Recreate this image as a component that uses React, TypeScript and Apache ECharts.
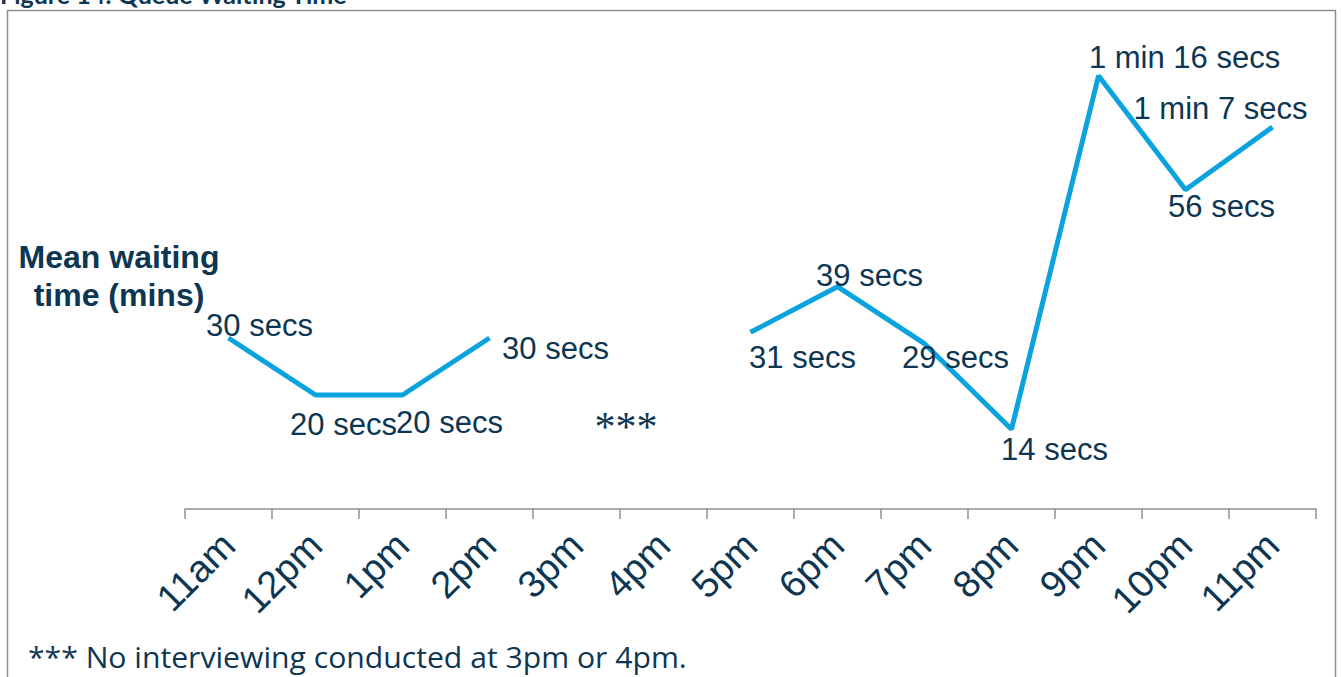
import React, { useEffect, useRef } from "react";
import * as echarts from "echarts";

// Hourly mean queue waiting time, in seconds (no interviewing at 3pm / 4pm)
const hours = ["11am", "12pm", "1pm", "2pm", "3pm", "4pm", "5pm", "6pm", "7pm", "8pm", "9pm", "10pm", "11pm"];
const waitSecs: (number | null)[] = [30, 20, 20, 30, null, null, 31, 39, 29, 14, 76, 56, 67];

// Label placement relative to each point (label centre minus point, px)
const labelOffsets: [number, number][] = [
  [31, -13], [28, 29], [47, 27], [66, 10], [0, 0], [0, 0],
  [52, 25], [32, -11], [31, 14], [43, 20], [86, -18], [36, 17], [-52, -19],
];

const NAVY = "#0d3653";
const BLUE = "#0aa3de";

function formatWait(s: number): string {
  const m = Math.floor(s / 60);
  const r = s % 60;
  return m > 0 ? `${m} min ${r} secs` : `${r} secs`;
}

export default function App() {
  const ref = useRef<HTMLDivElement>(null);

  useEffect(() => {
    if (!ref.current) return;
    const chart = echarts.init(ref.current, null, { renderer: "svg" });

    const seriesData = waitSecs.map((v, i) =>
      v == null
        ? null
        : {
            value: v,
            label: {
              show: true,
              position: "inside",
              offset: labelOffsets[i],
              formatter: () => formatWait(v),
            },
          }
    );

    chart.setOption({
      animation: false,
      backgroundColor: "#ffffff",
      grid: { left: 185, right: 25, top: 53, bottom: 168, containLabel: false },
      xAxis: {
        type: "category",
        data: hours,
        boundaryGap: true,
        axisLine: { show: true, lineStyle: { color: "#8c9096", width: 1.5 } },
        axisTick: { show: true, alignWithLabel: false, length: 10, lineStyle: { color: "#8c9096", width: 1.5 } },
        axisLabel: {
          rotate: 45,
          margin: 30,
          interval: 0,
          color: NAVY,
          fontSize: 38,
          fontFamily: "Liberation Sans, Arial, sans-serif",
        },
        splitLine: { show: false },
      },
      yAxis: {
        type: "value",
        min: 0,
        max: 80,
        show: false,
      },
      series: [
        {
          type: "line",
          data: seriesData,
          connectNulls: false,
          symbol: "circle",
          symbolSize: 1,
          showSymbol: true,
          itemStyle: { color: "rgba(0,0,0,0)" },
          lineStyle: { color: BLUE, width: 5 },
          label: {
            show: true,
            color: NAVY,
            fontSize: 31,
            fontFamily: "Liberation Sans, Arial, sans-serif",
          },
          z: 2,
        },
      ],
      graphic: [
        {
          type: "rect",
          shape: { x: 7.5, y: 10.5, width: 1328, height: 700 },
          style: { fill: "none", stroke: "#8c9096", lineWidth: 1.5 },
          silent: true,
        },
        {
          type: "text",
          x: 0,
          y: -6,
          style: {
            text: "Figure 14: Queue Waiting Time",
            fill: NAVY,
            font: "bold 25px Lato, 'Open Sans', sans-serif",
            align: "left",
            verticalAlign: "middle",
          },
        },
        {
          type: "text",
          x: 119,
          y: 276,
          style: {
            text: "Mean waiting\ntime (mins)",
            fill: NAVY,
            font: "bold 32px 'Liberation Sans', Arial, sans-serif",
            align: "center",
            verticalAlign: "middle",
            lineHeight: 38,
          },
        },
        {
          type: "text",
          x: 626,
          y: 427,
          style: {
            text: "***",
            fill: NAVY,
            font: "42px 'Liberation Serif', serif",
            align: "center",
            verticalAlign: "middle",
          },
        },
        {
          type: "text",
          x: 28,
          y: 657,
          scaleX: 1.04,
          style: {
            text: "*** No interviewing conducted at 3pm or 4pm.",
            fill: NAVY,
            font: "29px 'Open Sans', Lato, sans-serif",
            align: "left",
            verticalAlign: "middle",
          },
        },
      ],
    });

    return () => chart.dispose();
  }, []);

  return (
    <div
      ref={ref}
      style={{ position: "fixed", left: 0, top: 0, width: 1341, height: 677 }}
    />
  );
}
